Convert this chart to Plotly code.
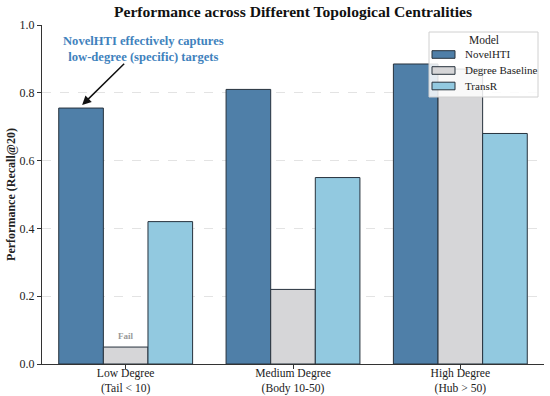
import plotly.graph_objects as go

categories = ["Low Degree<br>(Tail &lt; 10)", "Medium Degree<br>(Body 10-50)", "High Degree<br>(Hub &gt; 50)"]
models = ["NovelHTI", "Degree Baseline", "TransR"]
novelhti = [0.755, 0.81, 0.885]
degree_baseline = [0.05, 0.22, 0.87]
transr = [0.42, 0.55, 0.68]
colors = ["#4f7fa8", "#d6d6d8", "#92c9e0"]

FONT = "Liberation Serif"
EDGE = "#27323d"
xs = [0, 1, 2]

# plot area in pixels
L, R, T, B = 42, 544, 25, 364
W, H = 550, 396


def px(xp):
    return (xp - L) / (R - L)


def py(yp):
    return (B - yp) / (B - T)


fig = go.Figure()
for name, vals, col in zip(models, [novelhti, degree_baseline, transr], colors):
    fig.add_trace(go.Bar(
        x=xs, y=vals, name=name,
        marker=dict(color=col, line=dict(color=EDGE, width=1)),
    ))

fig.update_layout(
    width=W, height=H,
    margin=dict(l=L, r=W - R, t=T, b=H - B),
    paper_bgcolor="white", plot_bgcolor="white",
    font=dict(family=FONT, size=11, color="#222"),
    barmode="group", bargap=0.2, bargroupgap=0,
    title=dict(text="<b>Performance across Different Topological Centralities</b>",
               x=0.5, xref="paper", xanchor="center", y=1 - 12 / H, yanchor="middle",
               font=dict(family=FONT, size=15.6, color="#111")),
    showlegend=False,
)
fig.update_xaxes(
    tickvals=xs, ticktext=categories, range=[-0.5, 2.5],
    showline=True, linecolor="#333", linewidth=1,
    ticks="outside", ticklen=4, tickcolor="#333",
    showgrid=False, zeroline=False, automargin=False,
    ticklabelstandoff=-6,
    tickfont=dict(family=FONT, size=11.6),
)
fig.update_yaxes(
    range=[0, 1.0], tickvals=[0, 0.2, 0.4, 0.6, 0.8, 1.0], tickformat=".1f",
    showline=True, linecolor="#333", linewidth=1,
    ticks="outside", ticklen=4, tickcolor="#333",
    showgrid=True, gridcolor="#e3e3e3", griddash="dash", gridwidth=0.8,
    zeroline=False, automargin=False,
    title=dict(text="<b>Performance (Recall@20)</b>", font=dict(family=FONT, size=12), standoff=1),
    tickfont=dict(family=FONT, size=12),
)

# arrow annotation
fig.add_annotation(
    x=-0.26, y=0.764, xref="x", yref="y",
    ax=0.0, ay=0.89, axref="x", ayref="y",
    text="", showarrow=True, arrowhead=2, arrowsize=1.2, arrowwidth=1.5, arrowcolor="#111",
    standoff=0,
)
fig.add_annotation(
    x=px(143), y=py(49), xref="paper", yref="paper",
    text="<b>NovelHTI effectively captures<br>low-degree (specific) targets</b>",
    showarrow=False, font=dict(family=FONT, size=12.6, color="#3f82bd"),
    xanchor="center", yanchor="middle",
)
fig.add_annotation(
    x=0, y=degree_baseline[0], xref="x", yref="y", yshift=11,
    text="<b>Fail</b>", showarrow=False,
    font=dict(family=FONT, size=9, color="#999999"),
    xanchor="center", yanchor="middle",
)

# legend (drawn)
fig.add_shape(type="rect", xref="paper", yref="paper",
              x0=px(429), x1=px(538), y0=py(97), y1=py(32),
              fillcolor="rgba(255,255,255,0.85)", line=dict(color="#d0d0d0", width=1), layer="above")
fig.add_annotation(x=px(483.5), y=py(40), xref="paper", yref="paper", text="Model",
                   showarrow=False, font=dict(family=FONT, size=11.5, color="#222"),
                   xanchor="center", yanchor="middle")
rows = [54.5, 70.5, 86]
for name, col, yy in zip(models, colors, rows):
    fig.add_shape(type="rect", xref="paper", yref="paper",
                  x0=px(432), x1=px(455), y0=py(yy + 3.8), y1=py(yy - 3.8),
                  fillcolor=col, line=dict(color=EDGE, width=1), layer="above")
    fig.add_annotation(x=px(463), y=py(yy), xref="paper", yref="paper", text=name,
                       showarrow=False, font=dict(family=FONT, size=11, color="#222"),
                       xanchor="left", yanchor="middle")

fig.write_html("out.html", config={"displayModeBar": False},
               post_script="document.body.style.margin='0';")
